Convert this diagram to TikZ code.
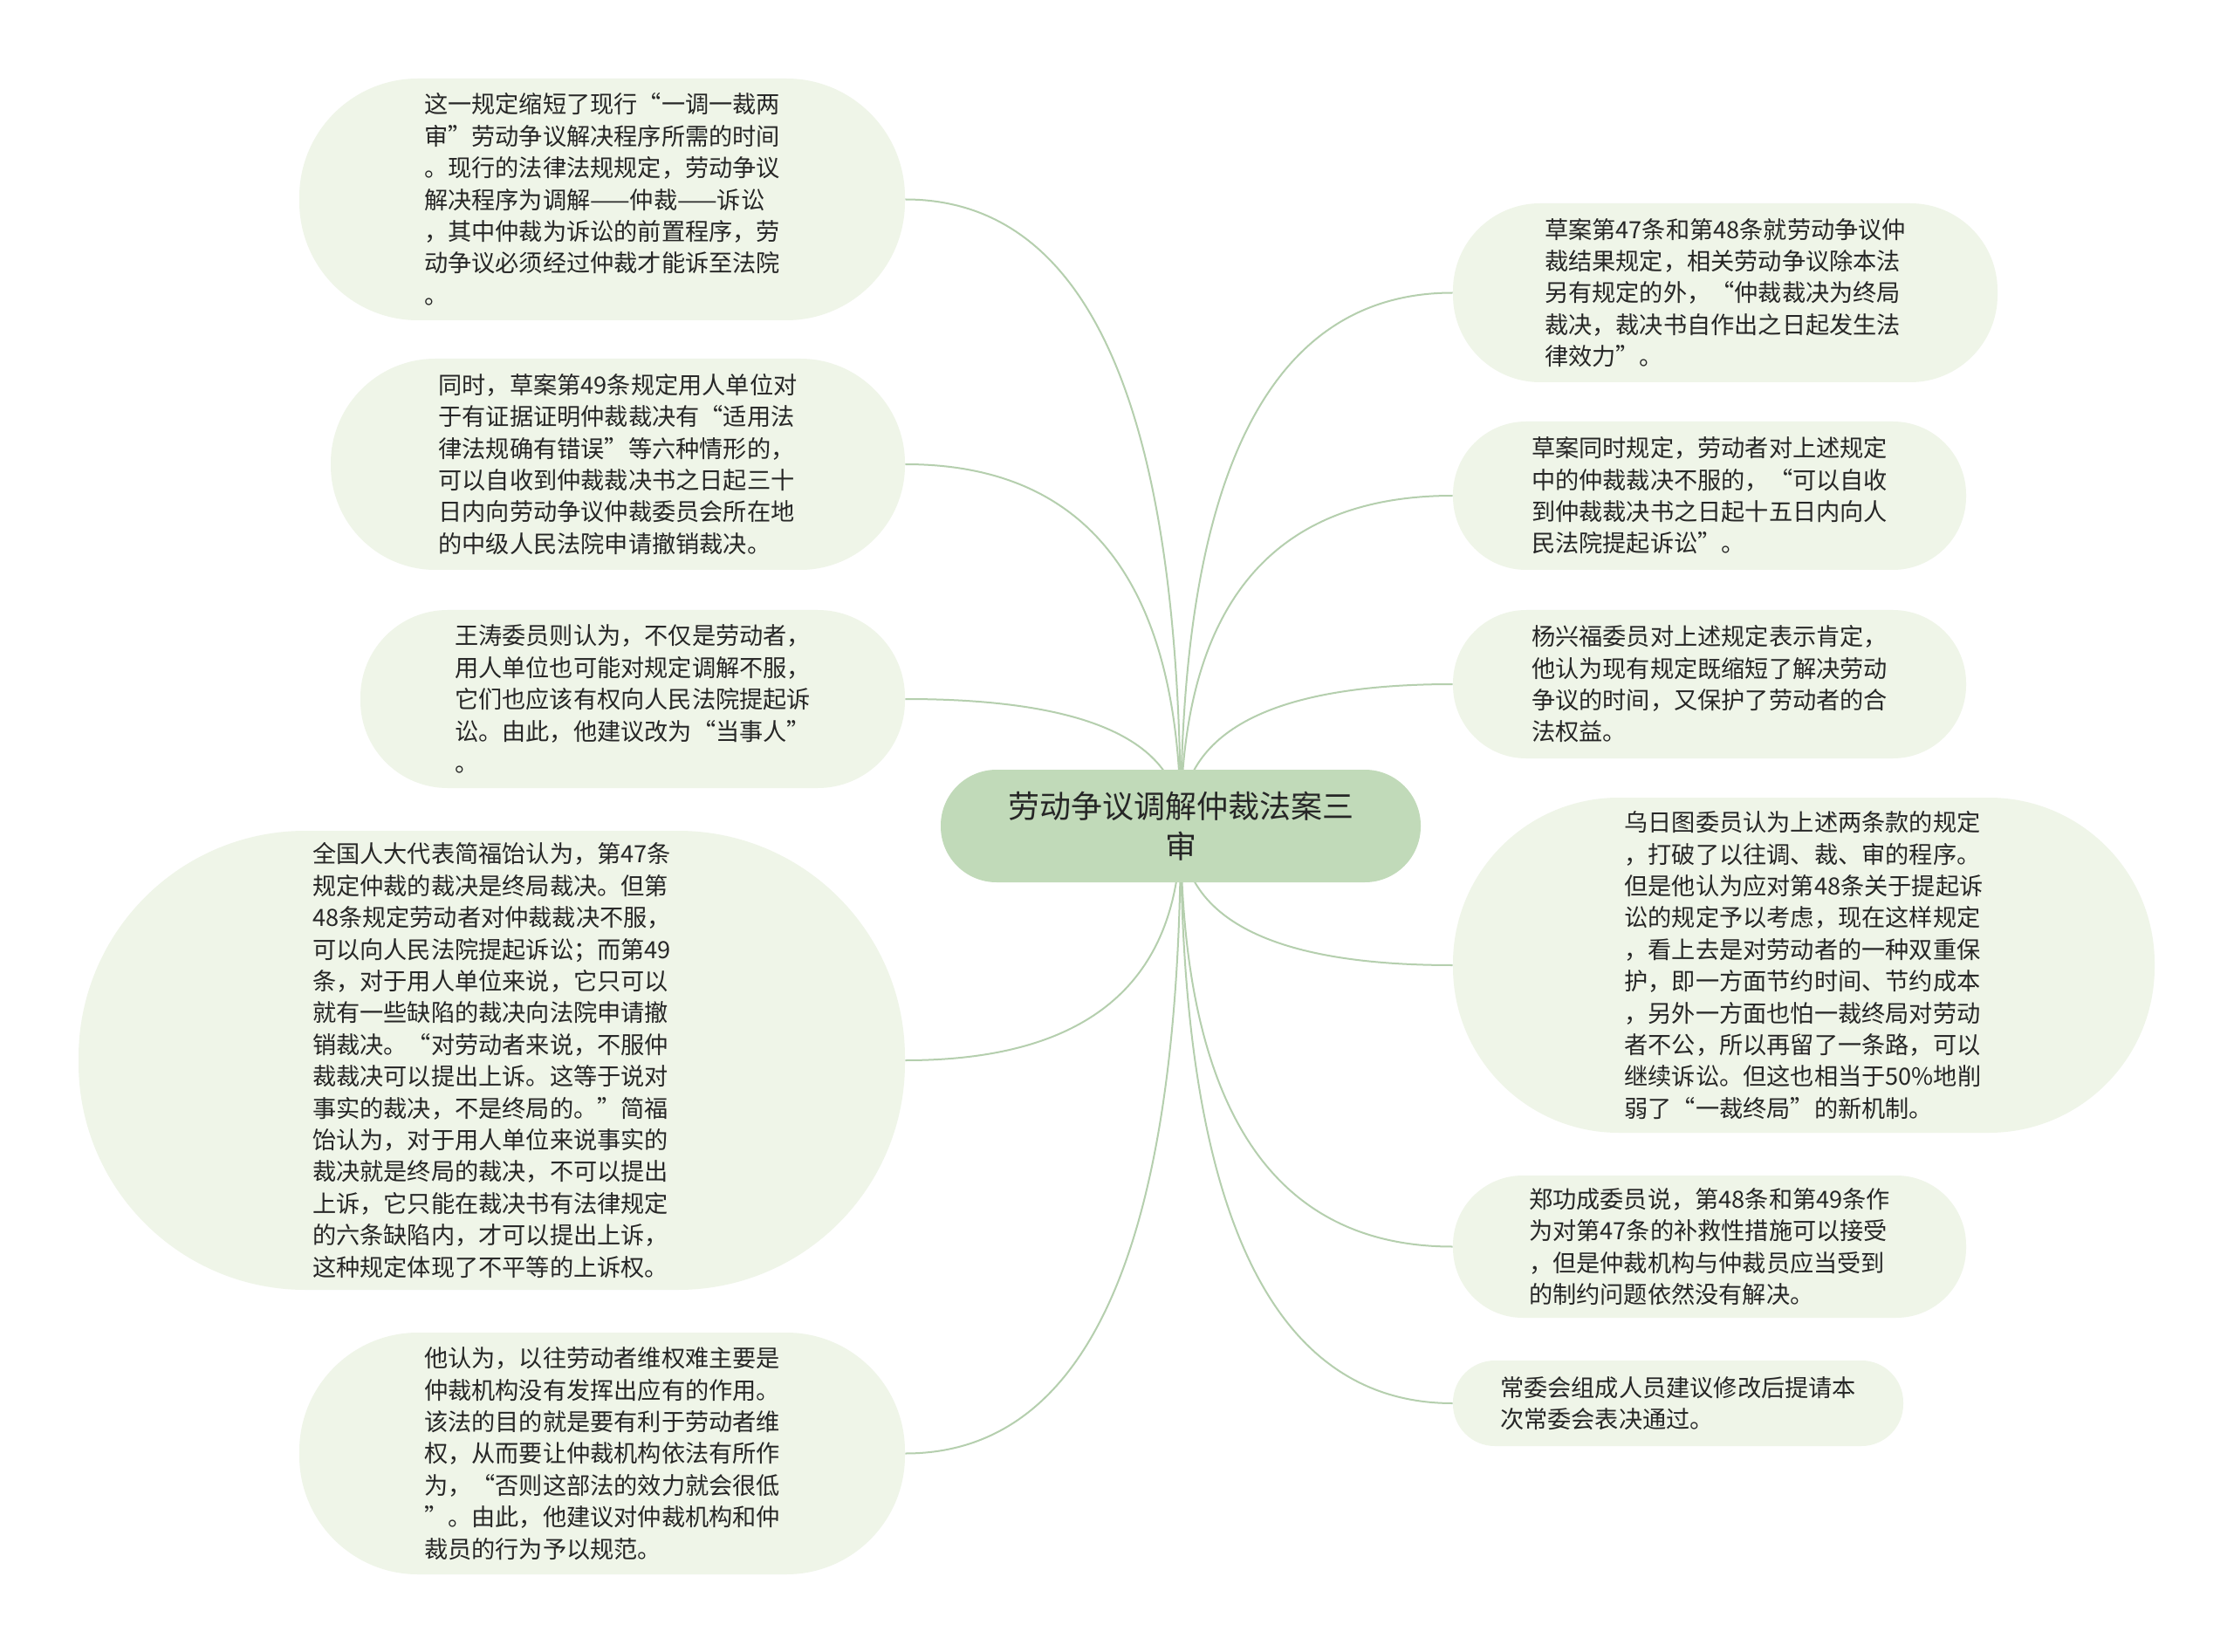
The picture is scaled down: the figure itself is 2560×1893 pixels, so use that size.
\documentclass[tikz,border=0pt]{standalone}
\usepackage{fontspec}
\setmainfont{Noto Sans CJK SC}
\usetikzlibrary{calc,backgrounds}
\definecolor{leaffill}{HTML}{EFF5E8}
\definecolor{rootfill}{HTML}{C1DAB9}
\definecolor{linkcol}{HTML}{B5CFAE}
\definecolor{txtcol}{HTML}{262626}
\newcommand\mmbranch[1]{\draw[link] (root.center) .. controls ($(root.center)!0.6667!(root.center |- #1)$) and ($(#1)!0.6667!(root.center |- #1)$) .. (#1);}
\begin{document}
\begin{tikzpicture}[x=0.5pt,y=-0.5pt,
  leaf/.style={fill=leaffill, draw=none, inner sep=0pt, align=left, text=txtcol,
    font=\fontsize{13.6pt}{18.2pt}\selectfont},
  rootnode/.style={fill=rootfill, draw=none, inner sep=0pt, align=center, text=txtcol,
    font=\fontsize{18pt}{23pt}\selectfont, minimum width=275pt, minimum height=64.5pt, rounded corners=32pt},
  link/.style={draw=linkcol, line width=1pt}
]
\useasboundingbox (0,0) rectangle (2560,1893);

\node[rootnode] (root) at (1353,946.5) {劳动争议调解仲裁法案三\\审};

\node[leaf, minimum width=347pt, minimum height=138.5pt, rounded corners=68pt] (L1) at (690,228.5) {这一规定缩短了现行“一调一裁两\\审”劳动争议解决程序所需的时间\\。现行的法律法规规定，劳动争议\\解决程序为调解——仲裁——诉讼\\，其中仲裁为诉讼的前置程序，劳\\动争议必须经过仲裁才能诉至法院\\。};

\node[leaf, minimum width=329pt, minimum height=121pt, rounded corners=60pt] (L2) at (708,532) {同时，草案第49条规定用人单位对\\于有证据证明仲裁裁决有“适用法\\律法规确有错误”等六种情形的，\\可以自收到仲裁裁决书之日起三十\\日内向劳动争议仲裁委员会所在地\\的中级人民法院申请撤销裁决。};

\node[leaf, minimum width=312pt, minimum height=102pt, rounded corners=50pt] (L3) at (725,801) {王涛委员则认为，不仅是劳动者，\\用人单位也可能对规定调解不服，\\它们也应该有权向人民法院提起诉\\讼。由此，他建议改为“当事人”\\。};

\node[leaf, minimum width=473.5pt, minimum height=263pt, rounded corners=130pt] (L4) at (563.5,1215) {全国人大代表简福饴认为，第47条\\规定仲裁的裁决是终局裁决。但第\\48条规定劳动者对仲裁裁决不服，\\可以向人民法院提起诉讼；而第49\\条，对于用人单位来说，它只可以\\就有一些缺陷的裁决向法院申请撤\\销裁决。“对劳动者来说，不服仲\\裁裁决可以提出上诉。这等于说对\\事实的裁决，不是终局的。”简福\\饴认为，对于用人单位来说事实的\\裁决就是终局的裁决，不可以提出\\上诉，它只能在裁决书有法律规定\\的六条缺陷内，才可以提出上诉，\\这种规定体现了不平等的上诉权。};

\node[leaf, minimum width=347pt, minimum height=138.5pt, rounded corners=68pt] (L5) at (690,1665.5) {他认为，以往劳动者维权难主要是\\仲裁机构没有发挥出应有的作用。\\该法的目的就是要有利于劳动者维\\权，从而要让仲裁机构依法有所作\\为，“否则这部法的效力就会很低\\”。由此，他建议对仲裁机构和仲\\裁员的行为予以规范。};

\node[leaf, minimum width=312pt, minimum height=102.5pt, rounded corners=50pt] (R1) at (1977,335.5) {草案第47条和第48条就劳动争议仲\\裁结果规定，相关劳动争议除本法\\另有规定的外，“仲裁裁决为终局\\裁决，裁决书自作出之日起发生法\\律效力”。};

\node[leaf, minimum width=294pt, minimum height=85pt, rounded corners=42pt] (R2) at (1959,568) {草案同时规定，劳动者对上述规定\\中的仲裁裁决不服的，“可以自收\\到仲裁裁决书之日起十五日内向人\\民法院提起诉讼”。};

\node[leaf, minimum width=294pt, minimum height=85pt, rounded corners=42pt] (R3) at (1959,784) {杨兴福委员对上述规定表示肯定，\\他认为现有规定既缩短了解决劳动\\争议的时间，又保护了劳动者的合\\法权益。};

\node[leaf, minimum width=402pt, minimum height=192pt, rounded corners=95pt] (R4) at (2067,1106) {乌日图委员认为上述两条款的规定\\，打破了以往调、裁、审的程序。\\但是他认为应对第48条关于提起诉\\讼的规定予以考虑，现在这样规定\\，看上去是对劳动者的一种双重保\\护，即一方面节约时间、节约成本\\，另外一方面也怕一裁终局对劳动\\者不公，所以再留了一条路，可以\\继续诉讼。但这也相当于50\%地削\\弱了“一裁终局”的新机制。};

\node[leaf, minimum width=294pt, minimum height=81.5pt, rounded corners=40pt] (R5) at (1959,1428.5) {郑功成委员说，第48条和第49条作\\为对第47条的补救性措施可以接受\\，但是仲裁机构与仲裁员应当受到\\的制约问题依然没有解决。};

\node[leaf, minimum width=258pt, minimum height=49pt, rounded corners=24pt] (R6) at (1923,1608) {常委会组成人员建议修改后提请本\\次常委会表决通过。};

\begin{pgfonlayer}{background}
\fill[white] (0,0) rectangle (2560,1893);
\foreach \a in {L1.east,L2.east,L3.east,L4.east,L5.east,R1.west,R2.west,R3.west,R4.west,R5.west,R6.west}{\mmbranch{\a}}
\end{pgfonlayer}
\end{tikzpicture}
\end{document}
